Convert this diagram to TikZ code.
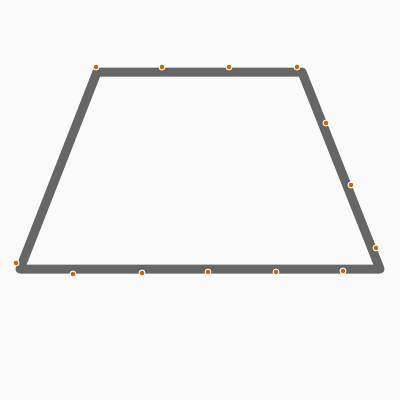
\documentclass[tikz,border=0pt]{standalone}
\usepackage{tikz}
\usetikzlibrary{calc}
\usepackage{xcolor}
\definecolor{PaperBg}{HTML}{FAFAFA}
\definecolor{EdgeGrey}{HTML}{666666}
\definecolor{DotOrange}{HTML}{CC6600}
\tikzset{
  edge/.style={draw=EdgeGrey, line width=9pt, line join=round, line cap=round},
  vdot/.style={circle, fill=DotOrange, draw=white, line width=0.9pt,
    inner sep=0pt, minimum size=6pt},
}

\begin{document}
\begin{tikzpicture}[x=1pt, y=-1pt]
    \fill[PaperBg] (0,0) rectangle (400,400);
    \useasboundingbox (0,0) rectangle (400,400);
    % corners of the trapezoid
    \coordinate (tl) at (97,72);
    \coordinate (tr) at (302,72);
    \coordinate (br) at (380,269);
    \coordinate (bl) at (20,269);
    \draw[edge] (tl) -- (tr) -- (br) -- (bl) -- cycle;
    % sample points along the outline
    \node[vdot] (p1) at (96,67) {};
    \node[vdot] (p2) at (162,67) {};
    \node[vdot] (p3) at (229,67) {};
    \node[vdot] (p4) at (297,67) {};
    \node[vdot] (p5) at (326,123) {};
    \node[vdot] (p6) at (351,185) {};
    \node[vdot] (p7) at (376,248) {};
    \node[vdot] (p8) at (343,271) {};
    \node[vdot] (p9) at (276,272) {};
    \node[vdot] (p10) at (208,272) {};
    \node[vdot] (p11) at (142,273) {};
    \node[vdot] (p12) at (73,274) {};
    \node[vdot] (p13) at (16,263) {};
  \end{tikzpicture}
\end{document}
